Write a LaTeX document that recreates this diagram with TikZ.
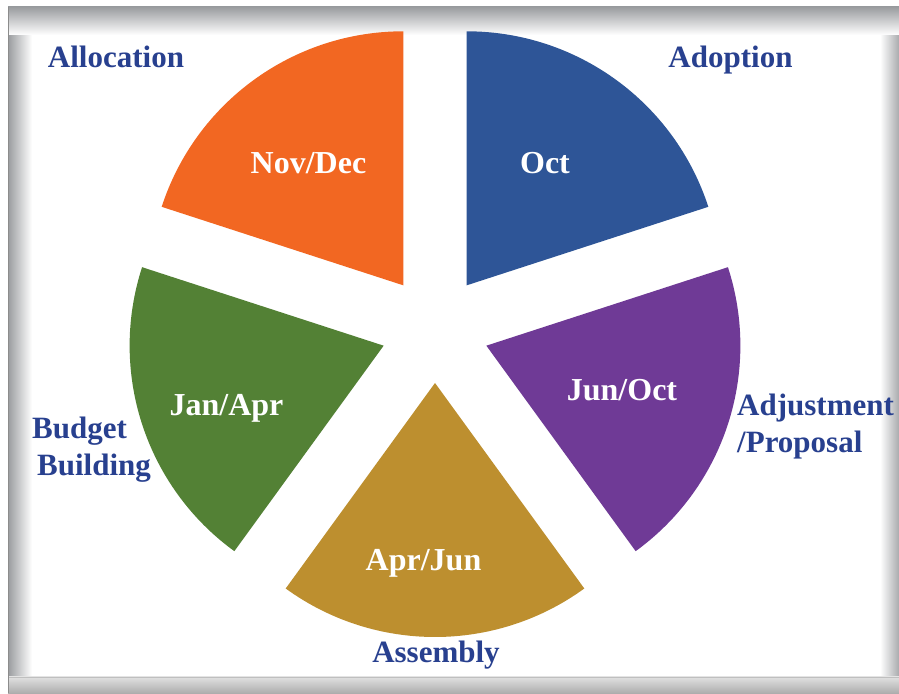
\documentclass[tikz,border=0pt]{standalone}
\usepackage{fontspec}
\setmainfont{Liberation Serif}
\usetikzlibrary{calc}
\definecolor{cblue}{HTML}{2E5597}
\definecolor{corange}{HTML}{F26722}
\definecolor{cgreen}{HTML}{538135}
\definecolor{cgold}{HTML}{BD8F2F}
\definecolor{cpurple}{HTML}{6F3A96}
\definecolor{ctext}{HTML}{28408F}
\definecolor{frameg}{HTML}{9A9C9F}
\begin{document}
\begin{tikzpicture}[x=1pt,y=1pt,
  outlbl/.style={text=ctext,font=\fontsize{31}{38}\selectfont\bfseries,inner sep=0pt,anchor=base},
  inlbl/.style={text=white,font=\fontsize{32}{38}\selectfont\bfseries,inner sep=0pt,anchor=base}]
\useasboundingbox (0,0) rectangle (899,693);
% frame
\fill[white] (0,0) rectangle (899,693);
\shade[left color=frameg,right color=white] (8,0) rectangle (32,686);
\shade[left color=white,right color=frameg!85] (880,0) rectangle (899,686);
\shade[top color=frameg,bottom color=white] (8,658) rectangle (899,686);
\shade[top color=black!12,bottom color=black!32] (8,0) rectangle (899,16);
\draw[black!25,line width=0.8pt] (8,16) -- (899,16);
\draw[black!45,line width=1pt] (8.5,0) -- (8.5,686);
% wedges
\coordinate (C) at (435,364);
\def\d{54}
\def\R{254}
\foreach \a/\b/\col in {18/90/cblue,90/162/corange,162/234/cgreen,234/306/cgold,306/378/cpurple}{
  \pgfmathsetmacro{\m}{(\a+\b)/2}
  \fill[\col] ($(C)+(\m:\d)$) -- ++(\a:\R) arc[start angle=\a,end angle=\b,radius=\R] -- cycle;
}
% inner labels
\node[inlbl] (nov) at (308.5,519) {Nov/Dec};
\node[inlbl] (oct) at (545,519) {Oct};
\node[inlbl] (junoct) at (622,292) {Jun/Oct};
\node[inlbl] (janapr) at (226.5,277) {Jan/Apr};
\node[inlbl] (aprjun) at (423.5,122) {Apr/Jun};
% outer labels
\node[outlbl] (alloc) at (116,625) {Allocation};
\node[outlbl] (adopt) at (730.5,625) {Adoption};
\node[outlbl,anchor=base west] (adj1) at (737,277) {Adjustment};
\node[outlbl,anchor=base west] (adj2) at (737,240) {/Proposal};
\node[outlbl,anchor=base west] (bud1) at (32,254) {Budget};
\node[outlbl,anchor=base west] (bud2) at (37,217) {Building};
\node[outlbl] (assem) at (436,30) {Assembly};
\end{tikzpicture}
\end{document}
